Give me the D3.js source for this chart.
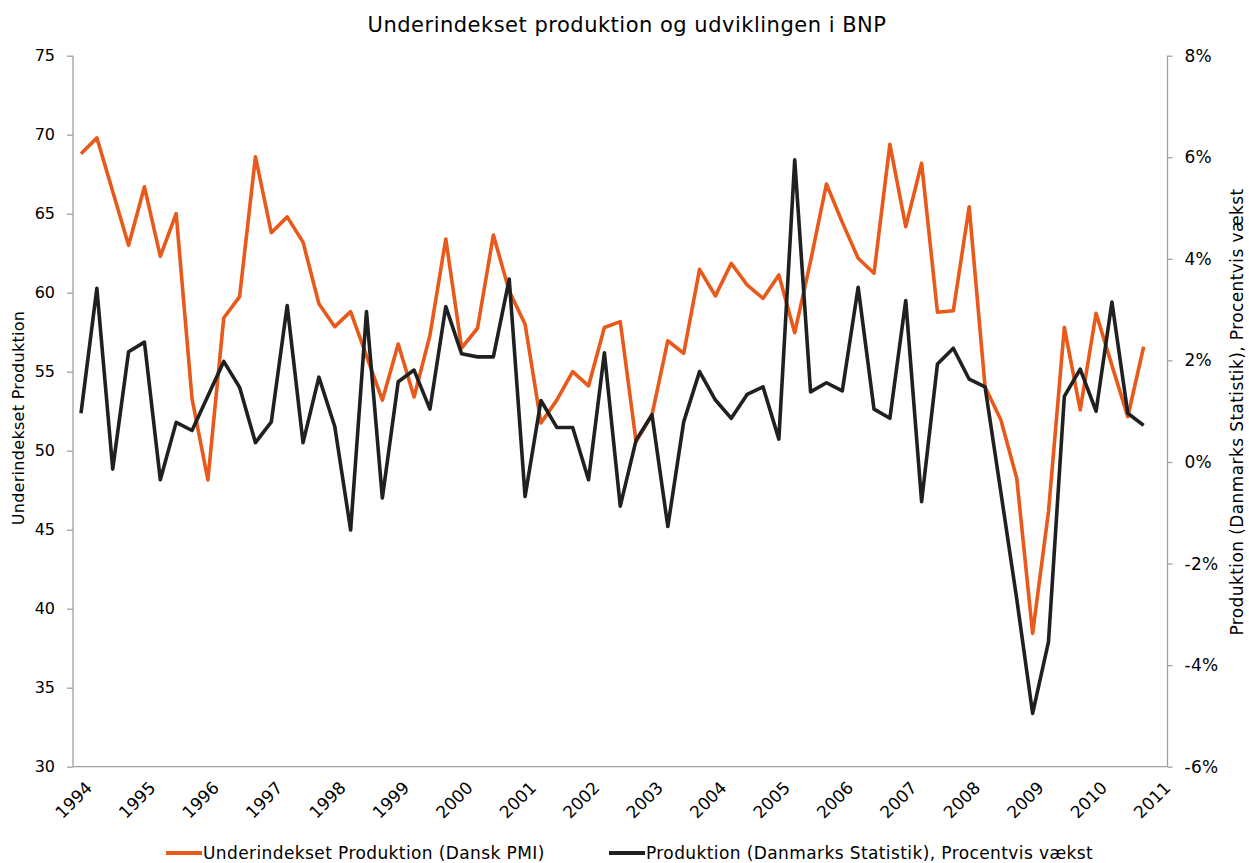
<!DOCTYPE html>
<html>
<head>
<meta charset="utf-8">
<script src="https://cdn.jsdelivr.net/npm/d3@7/dist/d3.min.js"></script>
<style>
  body { margin: 0; background: #fff; }
  text { font-family: "DejaVu Sans", Verdana, sans-serif; fill: #000; }
</style>
</head>
<body>
<svg id="chart" width="1249" height="863"></svg>
<script>
// Quarterly series, 1994Q1 .. 2010Q4
var startYear = 1994;
var pmiValues = [
  68.8, 69.8, 66.4, 63.0, 66.7, 62.3, 65.0, 53.3,
  48.15, 58.4, 59.75, 68.6, 63.8, 64.8, 63.2, 59.3,
  57.85, 58.8, 56.0, 53.2, 56.75, 53.4, 57.3, 63.4,
  56.5, 57.75, 63.65, 60.1, 58.0, 51.75, 53.2, 55.0,
  54.1, 57.8, 58.17, 50.57, 52.26, 56.96, 56.16, 61.48,
  59.8, 61.86, 60.49, 59.64, 61.12, 57.47, 62.0, 66.88,
  64.45, 62.18, 61.23, 69.39, 64.18, 68.19, 58.76, 58.86,
  65.44, 54.05, 51.94, 48.25, 38.44, 46.14, 57.81, 52.58,
  58.7, 55.4, 52.15, 56.58
];
var growthValues = [
  0.96, 3.42, -0.14, 2.17, 2.36, -0.35, 0.78, 0.62,
  1.3, 1.98, 1.47, 0.38, 0.79, 3.08, 0.38, 1.67,
  0.70, -1.34, 2.96, -0.71, 1.58, 1.81, 1.04, 3.06,
  2.13, 2.07, 2.07, 3.6, -0.68, 1.21, 0.68, 0.68,
  -0.35, 2.15, -0.87, 0.43, 0.93, -1.27, 0.79, 1.78,
  1.22, 0.86, 1.33, 1.48, 0.45, 5.95, 1.38, 1.56,
  1.40, 3.44, 1.04, 0.86, 3.18, -0.78, 1.93, 2.24,
  1.63, 1.48, -0.6, -2.7, -4.95, -3.54, 1.29, 1.83,
  1.0, 3.15, 0.96, 0.72
];
var yearTicks = d3.range(1994, 2012);
var leftTicks = [30, 35, 40, 45, 50, 55, 60, 65, 70, 75];
var rightTicks = [-6, -4, -2, 0, 2, 4, 6, 8];

var seriesNames = [
  'Underindekset Produktion (Dansk PMI)',
  'Produktion (Danmarks Statistik), Procentvis vækst'
];
var chartTitle = 'Underindekset produktion og udviklingen i BNP';

var ORANGE = '#e8591a';
var BLACK = '#1f2120';
var AXIS = '#a0a0a0';

var plot = {left: 73, right: 1167.5, top: 55.7, bottom: 766.7};

var svg = d3.select('#chart');

var x = d3.scaleLinear()
  .domain([1994, 2011])
  .range([81, 1159.5]);
var yLeft = d3.scaleLinear()
  .domain([30, 75])
  .range([plot.bottom, plot.top]);
var yRight = d3.scaleLinear()
  .domain([-6, 8])
  .range([plot.bottom, plot.top]);

var quarterX = function(i) { return x(startYear + i / 4); };

// Title
svg.append('text')
  .attr('x', 627)
  .attr('y', 32)
  .attr('text-anchor', 'middle')
  .style('font-size', '21px')
  .style('letter-spacing', '0.5px')
  .text(chartTitle);

// Left axis
var leftAxis = svg.append('g')
  .attr('transform', 'translate(' + plot.left + ',0)')
  .call(d3.axisLeft(yLeft).tickValues(leftTicks).tickSize(6).tickPadding(12));
leftAxis.selectAll('text').style('font-size', '16px')
  .style('font-family', '"DejaVu Sans", Verdana, sans-serif');

// Right axis
var rightAxis = svg.append('g')
  .attr('transform', 'translate(' + plot.right + ',0)')
  .call(d3.axisRight(yRight).tickValues(rightTicks).tickSize(5)
    .tickPadding(12).tickFormat(function(d) { return d + '%'; }));
rightAxis.selectAll('text').style('font-size', '17px')
  .style('letter-spacing', '0.3px')
  .style('font-family', '"DejaVu Sans", Verdana, sans-serif');

[leftAxis, rightAxis].forEach(function(axis) {
  axis.selectAll('path, line').attr('stroke', AXIS).attr('stroke-width', 1.3);
  axis.select('.domain').attr('d', 'M0,' + plot.top + 'V' + plot.bottom);
});

// Bottom axis
svg.append('line')
  .attr('x1', plot.left).attr('x2', plot.right)
  .attr('y1', plot.bottom).attr('y2', plot.bottom)
  .attr('stroke', AXIS).attr('stroke-width', 1.3);

svg.append('g').selectAll('text')
  .data(yearTicks)
  .enter().append('text')
  .attr('transform', function(d) {
    return 'translate(' + (x(d) + 8) + ',' + (plot.bottom + 18) + ') rotate(-45)';
  })
  .attr('text-anchor', 'end')
  .attr('dy', '0.35em')
  .style('font-size', '17px')
  .text(function(d) { return d; });

// Axis titles
svg.append('text')
  .attr('transform', 'translate(24,418) rotate(-90)')
  .attr('text-anchor', 'middle')
  .style('font-size', '16px')
  .style('letter-spacing', '0.3px')
  .text('Underindekset Produktion');

svg.append('text')
  .attr('transform', 'translate(1243,412) rotate(-90)')
  .attr('text-anchor', 'middle')
  .style('font-size', '17px')
  .style('letter-spacing', '0.4px')
  .text('Produktion (Danmarks Statistik), Procentvis vækst');

// Lines
var pmiLine = d3.line()
  .x(function(d, i) { return quarterX(i); })
  .y(function(d) { return yLeft(d); });
var growthLine = d3.line()
  .x(function(d, i) { return quarterX(i); })
  .y(function(d) { return yRight(d); });

svg.append('path')
  .datum(pmiValues)
  .attr('d', pmiLine)
  .attr('fill', 'none')
  .attr('stroke', ORANGE)
  .attr('stroke-width', 3.6)
  .attr('stroke-linejoin', 'round');

svg.append('path')
  .datum(growthValues)
  .attr('d', growthLine)
  .attr('fill', 'none')
  .attr('stroke', BLACK)
  .attr('stroke-width', 3.6)
  .attr('stroke-linejoin', 'round');

// Legend
var legendItems = [
  {name: seriesNames[0], color: ORANGE, x: 166},
  {name: seriesNames[1], color: BLACK, x: 609}
];
var legend = svg.append('g');
legendItems.forEach(function(item) {
  legend.append('line')
    .attr('x1', item.x).attr('x2', item.x + 36)
    .attr('y1', 853).attr('y2', 853)
    .attr('stroke', item.color)
    .attr('stroke-width', 4);
  legend.append('text')
    .attr('x', item.x + 37)
    .attr('y', 859)
    .style('font-size', '17px')
    .style('letter-spacing', '0.4px')
    .text(item.name);
});
</script>
</body>
</html>
